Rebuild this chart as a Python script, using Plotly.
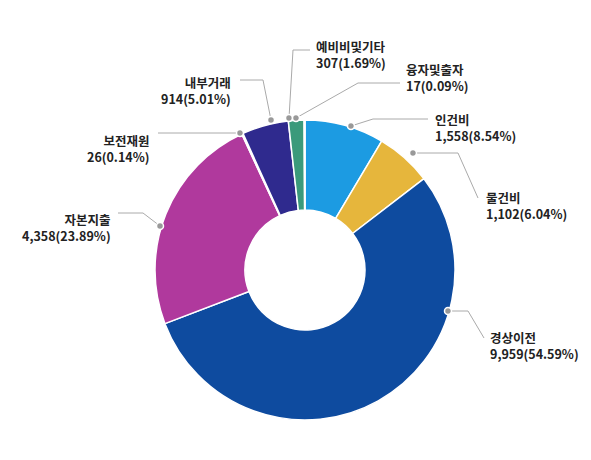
import plotly.graph_objects as go

labels = ["인건비", "물건비", "경상이전", "자본지출", "보전재원", "내부거래", "예비비및기타", "융자및출자"]
values = [1558, 1102, 9959, 4358, 26, 914, 307, 17]
pct_labels = ["1,558(8.54%)", "1,102(6.04%)", "9,959(54.59%)", "4,358(23.89%)", "26(0.14%)", "914(5.01%)", "307(1.69%)", "17(0.09%)"]
colors = ["#1c9be2", "#e6b63c", "#0e4b9f", "#b0399d", "#4bb04f", "#2f2a8e", "#3b9a7b", "#e2463f"]

W, H = 591, 460
fig = go.Figure(go.Pie(
    labels=labels, values=values, sort=False, direction="clockwise", rotation=0,
    hole=0.4, textinfo="none", hoverinfo="label+value",
    marker=dict(colors=colors, line=dict(color="white", width=1.5)),
    domain=dict(x=[(297-150)/W, (297+150)/W], y=[(198-150)/H, (198+150)/H]),
))

def P(x, y):
    return x / W, 1 - y / H

ann = [
    (425, 100, "left", [(343, 118), (365, 111), (420, 111)]),
    (476, 178, "left", [(405, 145), (450, 145), (470, 190)]),
    (480, 318, "left", [(440, 303), (460, 303), (476, 330)]),
    (105, 200, "right", [(152, 218), (135, 205), (110, 205)]),
    (143, 121, "right", [(232, 125), (150, 125)]),
    (225, 63, "right", [(263, 112), (255, 72), (232, 72)]),
    (306, 27, "left", [(281, 110), (285, 42), (302, 42)]),
    (396, 50, "left", [(288, 110), (350, 75), (392, 75)]),
]
annotations, shapes = [], []
for i, (tx, ty, anc, pts) in enumerate(ann):
    x, y = P(tx, ty)
    annotations.append(dict(x=x, y=y, xref="paper", yref="paper", xanchor=anc, yanchor="top",
                            align=anc, showarrow=False,
                            text=f"<b>{labels[i]}</b><br><b>{pct_labels[i]}</b>",
                            font=dict(size=12.5, color="#222", family="Noto Sans CJK KR")))
    for a, b in zip(pts[:-1], pts[1:]):
        x0, y0 = P(*a); x1, y1 = P(*b)
        shapes.append(dict(type="line", xref="paper", yref="paper", x0=x0, y0=y0, x1=x1, y1=y1,
                           line=dict(color="#aaa", width=1)))
    dx, dy = P(*pts[0])
    shapes.append(dict(type="circle", xref="paper", yref="paper",
                       x0=dx - 3.5/W, x1=dx + 3.5/W, y0=dy - 3.5/H, y1=dy + 3.5/H,
                       fillcolor="#999", line=dict(color="white", width=1.5)))

fig.update_layout(width=W, height=H, margin=dict(l=0, r=0, t=0, b=0), showlegend=False,
                  paper_bgcolor="white", annotations=annotations, shapes=shapes)
fig.write_html("out.html")
